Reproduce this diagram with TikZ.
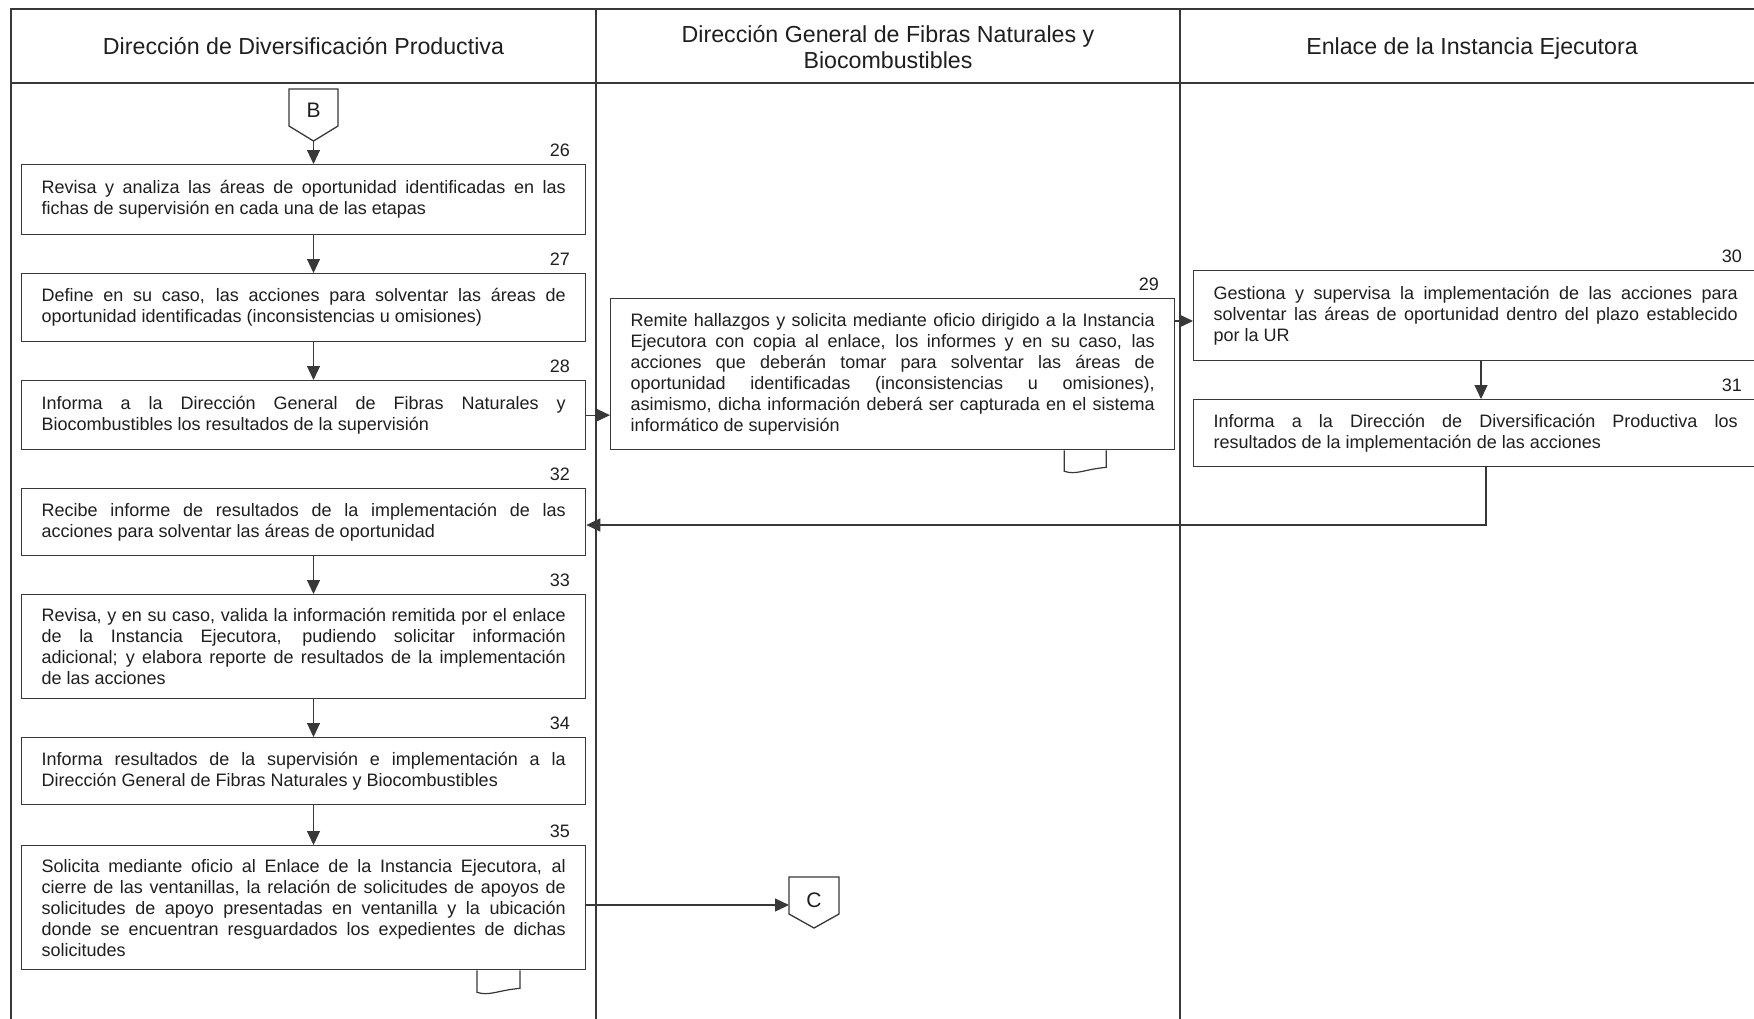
\documentclass[tikz,border=0pt]{standalone}
\usepackage{fontspec}
\setmainfont{Liberation Sans}
\usetikzlibrary{arrows.meta,calc}
\definecolor{linec}{gray}{0.22}
\definecolor{txtc}{gray}{0.12}
\hyphenpenalty=10000
\exhyphenpenalty=10000
\tikzset{
  frame/.style={draw=linec, line width=0.9pt},
  box/.style={draw=linec, line width=0.65pt, text=txtc, text width=262pt,
    inner xsep=10pt, inner ysep=0pt, align=justify,
    font=\fontsize{9}{10.5}\selectfont, anchor=north west},
  num/.style={text=txtc, font=\fontsize{9}{10}\selectfont, anchor=south east, inner sep=0pt},
  head/.style={text=txtc, font=\fontsize{11.6}{13.4}\selectfont, align=center},
  arr/.style={draw=linec, line width=0.6pt, -{Triangle[length=7pt,width=6.5pt]}},
  conn/.style={text=txtc, font=\fontsize{10.5}{12}\selectfont, inner sep=0pt},
  tagline/.style={draw=linec, line width=0.6pt},
  conline/.style={draw=linec, line width=0.65pt, line join=miter},
}
\begin{document}
\begin{tikzpicture}[x=0.5pt,y=-0.5pt]
\useasboundingbox (0,0) rectangle (1754,1018);
\clip (0,0) rectangle (1754,1018);
\fill[white] (0,0) rectangle (1754,1018);

% frame
\draw[frame] (11,1020) -- (11,9) -- (1770,9);
\draw[frame] (11,83) -- (1770,83);
\draw[frame] (596,9) -- (596,1020);
\draw[frame] (1180,9) -- (1180,1020);

% headers
\node[head] (h1) at (303.5,46) {Dirección de Diversificación Productiva};
\node[head] (h2) at (888,47) {Dirección General de Fibras Naturales y\\Biocombustibles};
\node[head] (h3) at (1472,48) {Enlace de la Instancia Ejecutora};

% connector B
\node[conn] (B) at (313.5,110) {B};
\draw[conline] ($(B)+(-24.5,-21)$) -- ($(B)+(24.5,-21)$) -- ($(B)+(24.5,16)$) -- ($(B)+(0,31)$) -- ($(B)+(-24.5,16)$) -- cycle;
\coordinate (Bpt) at ($(B)+(0,31)$);

% lane 1 boxes
\node[box, minimum height=35pt] (b26) at (21,164) {Revisa y analiza las áreas de oportunidad identificadas en las\linebreak fichas de supervisión en cada una de las etapas};
\node[box, minimum height=34pt] (b27) at (21,273) {Define en su caso, las acciones para solventar las áreas de\linebreak oportunidad identificadas (inconsistencias u omisiones)};
\node[box, minimum height=34.5pt] (b28) at (21,380) {Informa a la Dirección General de Fibras Naturales y\linebreak Biocombustibles los resultados de la supervisión};
\node[box, minimum height=33.5pt] (b32) at (21,488) {Recibe informe de resultados de la implementación de las\linebreak acciones para solventar las áreas de oportunidad};
\node[box, minimum height=52pt] (b33) at (21,594) {Revisa, y en su caso, valida la información remitida por el enlace\linebreak de la Instancia Ejecutora, pudiendo solicitar información\linebreak adicional; y elabora reporte de resultados de la implementación\linebreak de las acciones};
\node[box, minimum height=33.5pt] (b34) at (21,737) {Informa resultados de la supervisión e implementación a la\linebreak Dirección General de Fibras Naturales y Biocombustibles};
\node[box, minimum height=62pt] (b35) at (21,845) {Solicita mediante oficio al Enlace de la Instancia Ejecutora, al\linebreak cierre de las ventanillas, la relación de solicitudes de apoyos de\linebreak solicitudes de apoyo presentadas en ventanilla y la ubicación\linebreak donde se encuentran resguardados los expedientes de dichas\linebreak solicitudes};

% lane 2
\node[box, minimum height=75.5pt] (b29) at (610,298) {Remite hallazgos y solicita mediante oficio dirigido a la Instancia\linebreak Ejecutora con copia al enlace, los informes y en su caso, las\linebreak acciones que deberán tomar para solventar las áreas de\linebreak oportunidad identificadas (inconsistencias u omisiones),\linebreak asimismo, dicha información deberá ser capturada en el sistema\linebreak informático de supervisión};

% lane 3
\node[box, minimum height=45pt] (b30) at (1193,270) {Gestiona y supervisa la implementación de las acciones para\linebreak solventar las áreas de oportunidad dentro del plazo establecido\linebreak por la UR};
\node[box, minimum height=33.5pt] (b31) at (1193,399) {Informa a la Dirección de Diversificación Productiva los\linebreak resultados de la implementación de las acciones};

% numbers
\foreach \b/\n in {b26/26,b27/27,b28/28,b32/32,b33/33,b34/34,b35/35,b29/29,b30/30,b31/31}{
  \node[num] (n\n) at ($(\b.north east)+(-16,-7)$) {\n};
}

% connector C
\node[conn] (C) at (814,900) {C};
\draw[conline] ($(C)+(-25,-23)$) -- ($(C)+(25,-23)$) -- ($(C)+(25,14)$) -- ($(C)+(0,28)$) -- ($(C)+(-25,14)$) -- cycle;
\coordinate (Cw) at ($(C)+(-25,5)$);

% document tags
\draw[tagline] ($(b29.south east)+(-111,0)$) -- ++(0,21) .. controls +(12,4) and +(-22,2) .. ++(42,-4) -- ($(b29.south east)+(-69,0)$);
\draw[tagline] ($(b35.south west)+(456,0)$) -- ++(0,22) .. controls +(12,4) and +(-22,2) .. ++(43,-4) -- ($(b35.south west)+(499,0)$);

% arrows lane 1
\coordinate (ax) at (313.5,0);
\draw[arr] (Bpt) -- (b26.north -| Bpt);
\draw[arr] (b26.south -| ax) -- (b27.north -| ax);
\draw[arr] (b27.south -| ax) -- (b28.north -| ax);
\draw[arr] (b32.south -| ax) -- (b33.north -| ax);
\draw[arr] (b33.south -| ax) -- (b34.north -| ax);
\draw[arr] (b34.south -| ax) -- (b35.north -| ax);

% cross-lane arrows
\draw[arr] (b28.east) -- (b28.east -| b29.west);
\coordinate (y30) at (0,321);
\draw[arr] (b29.east |- y30) -- (b30.west |- y30);
\coordinate (ax3) at (1481,0);
\draw[arr] (b30.south -| ax3) -- (b31.north -| ax3);
\coordinate (ret) at (1486,525);
\draw[arr] (b31.south -| ret) |- (b32.east |- ret);
\draw[arr] (b35.east |- Cw) -- (Cw);
\end{tikzpicture}
\end{document}
